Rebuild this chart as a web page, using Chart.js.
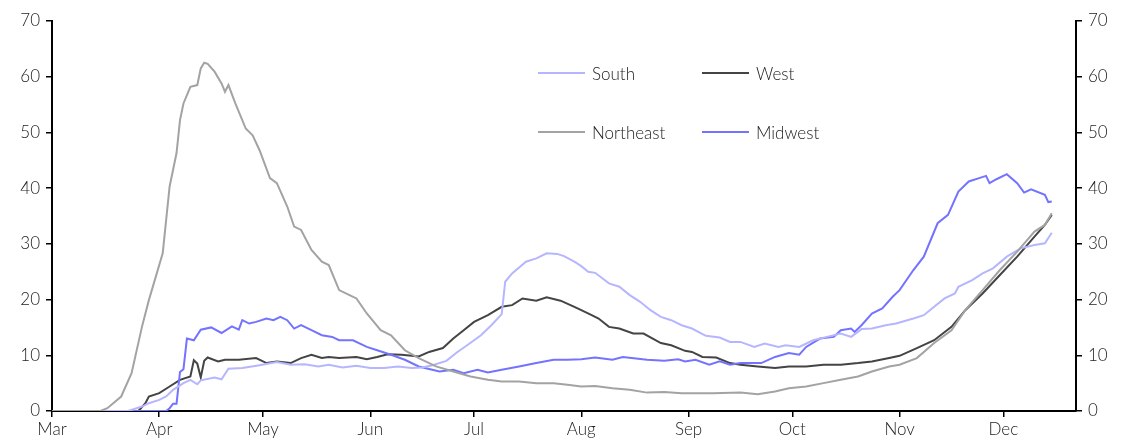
<!DOCTYPE html>
<html>
<head>
<meta charset="utf-8">
<script src="https://cdn.jsdelivr.net/npm/chart.js@4/dist/chart.umd.min.js"></script>
<style>
  html, body { margin: 0; padding: 0; background: #fff; }
  #quadro { position: relative; width: 1122px; height: 443px; }
  #legenda { position: absolute; left: 0; top: 0; font-family: Lato, 'Noto Sans', sans-serif; font-weight: 300; font-size: 17px; color: #222; }
  .item { position: absolute; display: flex; align-items: center; white-space: nowrap; }
  .traco { display: inline-block; width: 47px; height: 2px; margin-right: 7px; }
</style>
</head>
<body>
<div id="quadro">
  <canvas id="grafico"></canvas>
  <div id="legenda"></div>
</div>
<script>
// dias contados a partir de 1 de março
const mesesRotulos = ['Mar', 'Apr', 'May', 'Jun', 'Jul', 'Aug', 'Sep', 'Oct', 'Nov', 'Dec'];
const mesesInicio = [0, 31, 61, 92, 122, 153, 184, 214, 245, 275];
const yTicks = [0, 10, 20, 30, 40, 50, 60, 70];

const southDias = [0, 22, 26, 28, 31, 33, 35, 38, 40, 42, 43, 47, 49, 51, 55, 60, 65, 69, 73, 77,
  80, 84, 88, 92, 96, 100, 104, 107, 110, 114, 117, 120, 124, 127, 130, 131, 133, 137, 140, 143,
  146, 148, 151, 153, 155, 157, 161, 164, 167, 170, 173, 176, 179, 182, 185, 189, 193, 196, 199, 203,
  206, 210, 212, 216, 220, 224, 228, 231, 234, 237, 241, 244, 249, 252, 255, 258, 261, 262, 266, 269,
  272, 276, 280, 284, 287, 289];
const southValores = [0, 0, 0.8, 1.4, 2.0, 2.6, 3.8, 5.0, 5.6, 4.8, 5.5, 6.0, 5.7, 7.6, 7.7, 8.2, 8.8, 8.3, 8.4, 8.0,
  8.3, 7.8, 8.1, 7.7, 7.7, 8.0, 7.7, 7.8, 8.2, 9.0, 10.5, 11.8, 13.6, 15.4, 17.4, 23.2, 24.7, 26.8, 27.4, 28.3,
  28.2, 27.8, 26.8, 26.0, 25.0, 24.8, 22.9, 22.3, 20.8, 19.6, 18.1, 16.9, 16.3, 15.4, 14.8, 13.5, 13.2, 12.4, 12.4, 11.5,
  12.1, 11.5, 11.8, 11.5, 12.7, 13.3, 13.9, 13.3, 14.7, 14.8, 15.4, 15.7, 16.6, 17.2, 18.7, 20.2, 21.1, 22.3, 23.5, 24.7,
  25.6, 27.7, 29.2, 29.8, 30.1, 32.0];

const westDias = [0, 25, 27, 28, 31, 34, 37, 40, 41, 42, 43, 44, 45, 48, 50, 54, 59, 62, 65, 69,
  72, 75, 78, 80, 83, 88, 91, 94, 97, 101, 104, 106, 109, 113, 116, 119, 122, 126, 130, 133,
  136, 140, 143, 147, 151, 153, 156, 158, 161, 164, 168, 171, 176, 179, 183, 185, 188, 192, 196, 199,
  204, 209, 213, 218, 223, 228, 233, 237, 242, 245, 250, 255, 260, 264, 269, 274, 279, 284, 287, 289];
const westValores = [0, 0, 1.4, 2.6, 3.2, 4.4, 5.6, 6.2, 9.1, 8.5, 6.0, 9.0, 9.6, 8.9, 9.2, 9.2, 9.5, 8.6, 8.9, 8.6,
  9.5, 10.1, 9.5, 9.7, 9.5, 9.7, 9.3, 9.7, 10.2, 10.1, 9.9, 9.8, 10.6, 11.3, 13.0, 14.5, 16.0, 17.2, 18.7, 19.0,
  20.2, 19.8, 20.4, 19.8, 18.7, 18.1, 17.2, 16.6, 15.1, 14.8, 13.9, 13.9, 12.2, 11.8, 10.8, 10.6, 9.7, 9.6, 8.6, 8.3,
  8.0, 7.7, 8.0, 8.0, 8.3, 8.3, 8.6, 8.9, 9.5, 9.9, 11.3, 12.7, 15.1, 18.1, 21.1, 24.4, 27.7, 31.3, 33.4, 35.2];

const northeastDias = [0, 14, 16, 20, 23, 26, 28, 32, 33, 34, 36, 37, 38, 40, 42, 43, 44, 45, 47, 49,
  50, 51, 53, 56, 58, 60, 63, 65, 68, 70, 72, 75, 78, 80, 83, 86, 88, 91, 95, 98,
  102, 106, 111, 116, 121, 126, 130, 135, 140, 145, 149, 153, 157, 162, 167, 172, 177, 182, 186, 191,
  199, 204, 209, 213, 218, 223, 228, 233, 237, 242, 245, 250, 255, 260, 264, 269, 274, 279, 284, 287, 289];
const northeastValores = [0, 0, 0.5, 2.6, 6.8, 15.1, 19.9, 28.3, 34.3, 40.3, 46.3, 52.2, 55.2, 58.2, 58.5, 61.5, 62.5, 62.3, 60.9, 58.8,
  57.3, 58.5, 55.2, 50.7, 49.5, 46.8, 41.8, 40.9, 36.7, 33.1, 32.5, 28.9, 26.8, 26.2, 21.7, 20.8, 20.2, 17.5, 14.5, 13.6,
  10.9, 9.5, 8.0, 7.1, 6.2, 5.6, 5.3, 5.3, 5.0, 5.0, 4.7, 4.4, 4.5, 4.1, 3.8, 3.3, 3.4, 3.2, 3.2, 3.2,
  3.3, 3.0, 3.5, 4.1, 4.4, 5.0, 5.6, 6.2, 7.1, 8.0, 8.3, 9.5, 12.2, 14.5, 18.1, 21.7, 25.3, 28.6, 32.2, 33.4, 35.5];

const midwestDias = [0, 33, 34, 35, 36, 37, 38, 39, 41, 43, 46, 49, 52, 54, 55, 57, 59, 62, 64, 66,
  68, 70, 72, 75, 78, 81, 83, 87, 91, 94, 98, 102, 106, 112, 116, 119, 123, 126, 130, 135,
  140, 145, 149, 153, 157, 162, 165, 172, 177, 181, 183, 186, 190, 193, 196, 199, 202, 205, 209, 213,
  216, 218, 222, 226, 228, 231, 232, 234, 237, 240, 243, 245, 249, 252, 256, 259, 262, 265, 268, 270,
  271, 273, 276, 279, 281, 283, 287, 288, 289];
const midwestValores = [0, 0, 0.5, 1.3, 1.3, 7.0, 7.5, 13.0, 12.7, 14.6, 15.0, 14.0, 15.2, 14.6, 16.3, 15.7, 16.0, 16.6, 16.3, 16.9,
  16.3, 14.8, 15.4, 14.5, 13.6, 13.3, 12.7, 12.7, 11.5, 10.9, 10.1, 9.2, 8.0, 7.1, 7.4, 6.8, 7.4, 6.9, 7.4, 8.0,
  8.6, 9.2, 9.2, 9.3, 9.6, 9.2, 9.7, 9.2, 9.0, 9.3, 8.9, 9.2, 8.3, 8.9, 8.3, 8.6, 8.6, 8.6, 9.7, 10.4,
  10.1, 11.5, 13.0, 13.3, 14.5, 14.8, 14.2, 15.4, 17.5, 18.4, 20.5, 21.7, 25.3, 27.7, 33.7, 35.2, 39.4, 41.2, 41.8, 42.2,
  40.9, 41.6, 42.5, 40.9, 39.2, 39.8, 38.8, 37.5, 37.6];

const TINTA = '#222';
const FONTE = { family: "Lato, 'Noto Sans', sans-serif", size: 17, weight: 300 };

const pares = (dias, valores) => dias.map((d, i) => ({ x: d, y: valores[i] }));

const serie = (rotulo, cor, dias, valores, col, lin) => ({
  label: rotulo,
  data: pares(dias, valores),
  borderColor: cor,
  backgroundColor: cor,
  borderWidth: 2,
  pointRadius: 0,
  tension: 0,
  yAxisID: 'y',
  legenda: { col, lin },
});

const dados = {
  datasets: [
    serie('Northeast', '#a3a3a3', northeastDias, northeastValores, 0, 1),
    serie('South', '#b6b6ff', southDias, southValores, 0, 0),
    serie('Midwest', '#7373ff', midwestDias, midwestValores, 1, 1),
    serie('West', '#444444', westDias, westValores, 1, 0),
  ],
};

const eixoY = (pos, largura) => ({
  position: pos,
  min: 0,
  max: 70,
  afterBuildTicks: (s) => { s.ticks = yTicks.map((v) => ({ value: v })); },
  ticks: { color: TINTA, font: FONTE, padding: 6 },
  grid: { drawOnChartArea: false, drawTicks: true, tickLength: 6, color: '#000', lineWidth: 1.5 },
  border: { color: '#000', width: 2 },
  afterFit: (s) => { s.width = largura; },
});

const opcoes = {
  responsive: true,
  maintainAspectRatio: false,
  animation: false,
  layout: { padding: { top: 21, left: 0, right: 0, bottom: 0 } },
  plugins: { legend: { display: false }, tooltip: { enabled: false } },
  scales: {
    x: {
      type: 'linear',
      min: 0,
      max: 296,
      afterBuildTicks: (s) => { s.ticks = mesesInicio.map((v) => ({ value: v })); },
      ticks: {
        color: TINTA,
        font: FONTE,
        maxRotation: 0,
        autoSkip: false,
        padding: 2,
        callback: (v) => mesesRotulos[mesesInicio.indexOf(v)] ?? '',
      },
      grid: { drawOnChartArea: false, drawTicks: true, tickLength: 6, color: '#000', lineWidth: 1.5 },
      border: { color: '#000', width: 2 },
      afterFit: (s) => { s.height = 32; },
    },
    y: eixoY('left', 52),
    y2: eixoY('right', 46),
  },
};

new Chart(document.getElementById('grafico'), { type: 'line', data: dados, options: opcoes });

// legenda em HTML, 2x2, na mesma posição do original
const legendaEl = document.getElementById('legenda');
const colX = [538, 702];
const linY = [73, 132];
for (const ds of dados.datasets) {
  const item = document.createElement('div');
  item.className = 'item';
  item.style.left = colX[ds.legenda.col] + 'px';
  item.style.top = (linY[ds.legenda.lin] - 11) + 'px';
  item.style.height = '22px';
  const traco = document.createElement('span');
  traco.className = 'traco';
  traco.style.background = ds.borderColor;
  const nome = document.createElement('span');
  nome.textContent = ds.label;
  item.append(traco, nome);
  legendaEl.appendChild(item);
}
</script>
</body>
</html>
